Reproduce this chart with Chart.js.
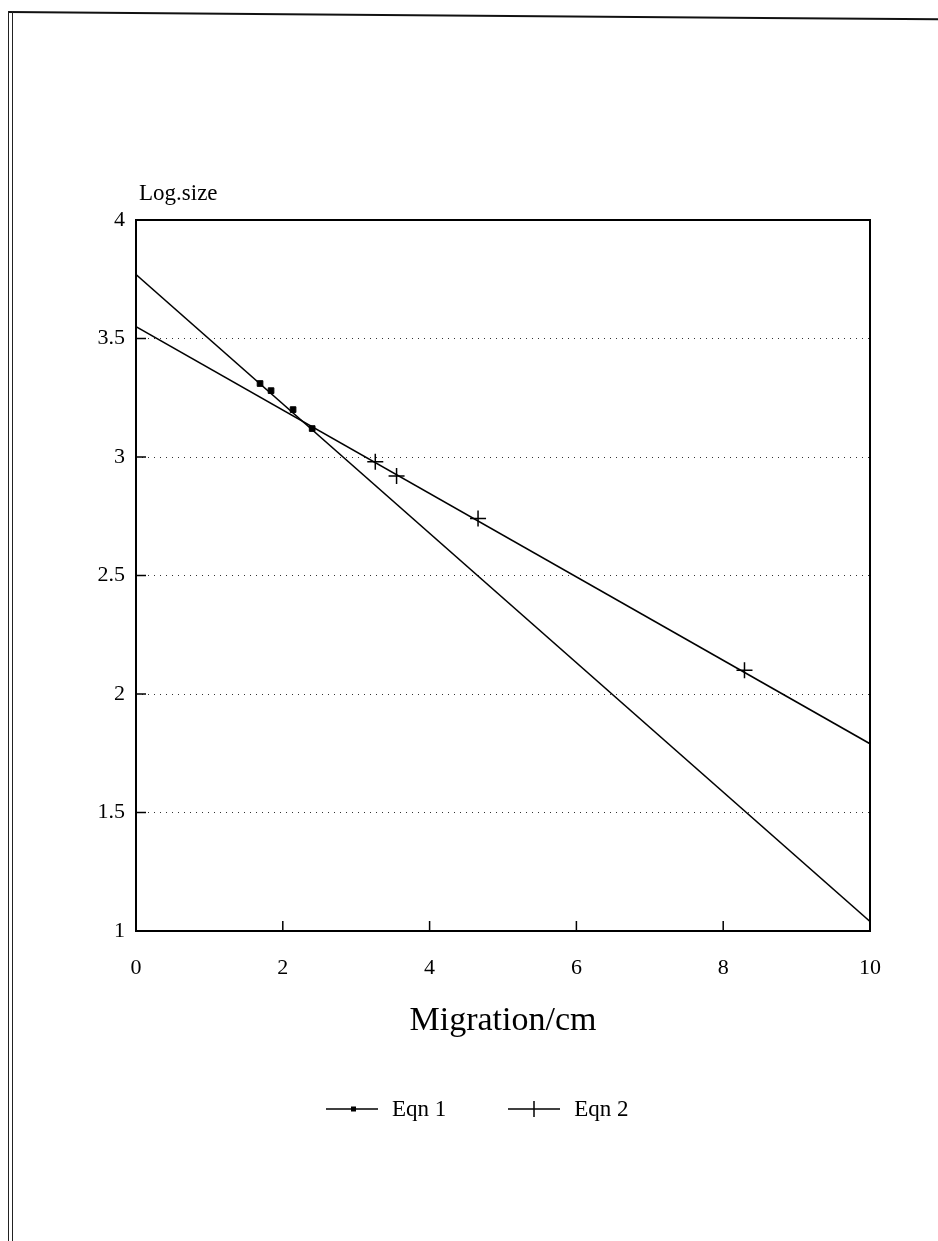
<!DOCTYPE html>
<html>
<head>
<meta charset="utf-8">
<script src="https://cdn.jsdelivr.net/npm/chart.js@4/dist/chart.umd.min.js"></script>
<style>
  html, body { margin: 0; padding: 0; background: #fff; }
  #page { position: relative; width: 938px; height: 1241px; overflow: hidden; font-family: "Liberation Serif", "DejaVu Serif", serif; color: #000; }
  #chart { position: absolute; left: 0; top: 0; }
  .frame-top { position: absolute; left: 8px; top: 11px; width: 940px; height: 2px; background: #111; transform: rotate(0.45deg); transform-origin: left center; }
  .frame-left { position: absolute; top: 11px; width: 1px; height: 1240px; background: #222; }
  .ylab { position: absolute; left: 139px; top: 180px; font-size: 23px; }
  .xlab { position: absolute; left: 0; width: 1006px; top: 1000px; text-align: center; font-size: 34px; }
  .legend { position: absolute; top: 1096px; left: 326px; font-size: 23px; display: flex; align-items: center; }
  .legend .item { display: flex; align-items: center; }
  .legend svg { margin-right: 14px; }
</style>
</head>
<body>
<div id="page">
  <div class="frame-top"></div>
  <div class="frame-left" style="left:8px"></div>
  <div class="frame-left" style="left:12px"></div>
  <canvas id="chart" width="938" height="1241"></canvas>
  <div class="ylab">Log.size</div>
  <div class="xlab">Migration/cm</div>
  <div class="legend">
    <div class="item">
      <svg width="52" height="10"><line x1="0" y1="5" x2="52" y2="5" stroke="#000" stroke-width="1.5"/><rect x="25" y="2.5" width="5" height="5" fill="#000"/></svg>
      <span>Eqn 1</span>
    </div>
    <div class="item" style="margin-left:62px">
      <svg width="52" height="18"><line x1="0" y1="9" x2="52" y2="9" stroke="#000" stroke-width="1.5"/><line x1="26" y1="1" x2="26" y2="17" stroke="#000" stroke-width="1.5"/></svg>
      <span>Eqn 2</span>
    </div>
  </div>
</div>
<script>
  // measured points
  const eqn1X = [1.69, 1.84, 2.14, 2.40];
  const eqn1Y = [3.31, 3.28, 3.20, 3.12];
  const eqn2X = [3.26, 3.55, 4.66, 8.29];
  const eqn2Y = [2.98, 2.92, 2.74, 2.10];

  // fitted lines, read at the axis ends
  const lineX = [0, 10];
  const eqn1Line = [3.77, 1.04];
  const eqn2Line = [3.55, 1.79];

  const xTicks = [0, 2, 4, 6, 8, 10];
  const yTicks = [1, 1.5, 2, 2.5, 3, 3.5, 4];

  const pts = (xs, ys) => xs.map((x, i) => ({ x, y: ys[i] }));

  // box round the plot area and short inward tick marks
  const boxTicks = {
    id: "boxTicks",
    afterDatasetsDraw(chart) {
      const { ctx, chartArea: a, scales } = chart;
      ctx.save();
      ctx.strokeStyle = "#000";
      ctx.lineWidth = 2;
      ctx.strokeRect(a.left, a.top, a.right - a.left, a.bottom - a.top);
      ctx.lineWidth = 1.5;
      ctx.beginPath();
      yTicks.forEach((v) => {
        const y = scales.y.getPixelForValue(v);
        ctx.moveTo(a.left, y);
        ctx.lineTo(a.left + 10, y);
      });
      xTicks.forEach((v) => {
        const x = scales.x.getPixelForValue(v);
        ctx.moveTo(x, a.bottom);
        ctx.lineTo(x, a.bottom - 10);
      });
      ctx.stroke();
      ctx.restore();
    },
  };

  const tickFont = { family: "Liberation Serif", size: 22 };

  new Chart(document.getElementById("chart"), {
    type: "scatter",
    data: {
      datasets: [
        {
          type: "line",
          label: "Eqn 1 fit",
          data: pts(lineX, eqn1Line),
          borderColor: "#000",
          borderWidth: 1.6,
          pointRadius: 0,
        },
        {
          type: "line",
          label: "Eqn 2 fit",
          data: pts(lineX, eqn2Line),
          borderColor: "#000",
          borderWidth: 1.6,
          pointRadius: 0,
        },
        {
          label: "Eqn 1",
          data: pts(eqn1X, eqn1Y),
          pointStyle: "rect",
          pointRadius: 4,
          backgroundColor: "#000",
          borderColor: "#000",
        },
        {
          label: "Eqn 2",
          data: pts(eqn2X, eqn2Y),
          pointStyle: "cross",
          pointRadius: 8,
          borderWidth: 1.5,
          borderColor: "#000",
        },
      ],
    },
    options: {
      responsive: false,
      animation: false,
      layout: { padding: { left: 0, top: 220, right: 68, bottom: 250 } },
      plugins: { legend: { display: false }, tooltip: { enabled: false } },
      scales: {
        x: {
          type: "linear",
          min: 0,
          max: 10,
          afterFit: (s) => { s.height = 60; },
          afterBuildTicks: (s) => { s.ticks = xTicks.map((v) => ({ value: v })); },
          grid: { display: false, drawTicks: false },
          border: { display: false },
          ticks: { color: "#000", font: tickFont, padding: 24, maxRotation: 0, callback: (v) => String(v) },
        },
        y: {
          type: "linear",
          min: 1,
          max: 4,
          afterFit: (s) => { s.width = 136; },
          afterBuildTicks: (s) => { s.ticks = yTicks.map((v) => ({ value: v })); },
          grid: {
            drawTicks: false,
            color: (c) => (c.tick && (c.tick.value === 1 || c.tick.value === 4) ? "rgba(0,0,0,0)" : "#333"),
            lineWidth: 1,
          },
          border: { display: false, dash: [1, 5] },
          ticks: { color: "#000", font: tickFont, padding: 11, callback: (v) => String(v) },
        },
      },
    },
    plugins: [boxTicks],
  });
</script>
</body>
</html>
